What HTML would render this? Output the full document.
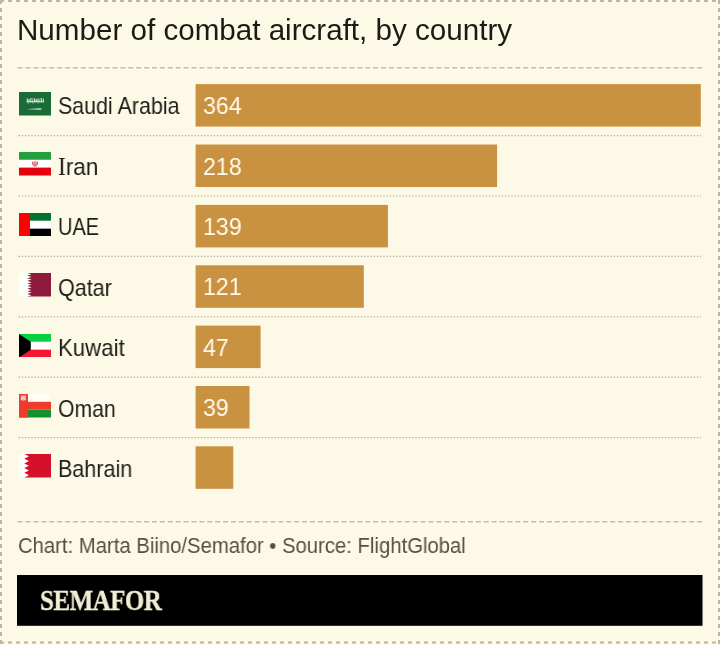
<!DOCTYPE html>
<html><head><meta charset="utf-8">
<style>
html,body{margin:0;padding:0}
.abs,.lab,.val,#logotxt{will-change:transform}
body{width:720px;height:645px;background:#fcf9e6;position:relative;overflow:hidden;font-family:"Liberation Sans",sans-serif}
.abs{position:absolute;white-space:nowrap}
#title{left:17.4px;top:11.6px;font-size:29.6px;line-height:36px;color:#1c1a14}
.lab{position:absolute;left:58px;margin-top:1.3px;font-size:23.8px;line-height:28px;color:#1f1d17;transform-origin:0 0;transform:scaleX(0.906)}
.val{position:absolute;left:202.8px;margin-top:1.3px;font-size:24px;line-height:28px;color:#fffbea;transform-origin:0 0;transform:scaleX(0.965)}
.flag{position:absolute;left:19px;width:32px;height:23.5px}
#foot{left:17.5px;top:533px;font-size:21.6px;line-height:26px;color:#54523f;transform-origin:0 0;transform:scaleX(0.939)}
#logotxt{position:absolute;left:39.5px;top:583.5px;font-family:"Liberation Serif",serif;font-weight:bold;font-size:28.5px;line-height:33px;color:#f1edd3;-webkit-text-stroke:0.35px #f1edd3;letter-spacing:-0.6px;transform-origin:0 0;transform:scaleX(0.877)}
svg.lines{position:absolute;left:0;top:0}
</style></head>
<body>
<svg class="lines" width="720" height="645">
  <g stroke="#b9b7ab" stroke-width="2" stroke-dasharray="4 4" fill="none">
    <line x1="0" y1="1" x2="720" y2="1"/>
    <line x1="0" y1="642.5" x2="720" y2="642.5"/>
    <line x1="1" y1="0" x2="1" y2="645"/>
    <line x1="719" y1="0" x2="719" y2="645"/>
  </g>
  <g stroke="#c0beaf" stroke-width="1.4" stroke-dasharray="4.9 3.0" fill="none">
    <line x1="17.7" y1="67.7" x2="703" y2="67.7"/>
    <line x1="17.7" y1="521.8" x2="703" y2="521.8"/>
  </g>
  <g stroke="#bbb9ab" stroke-width="1.2" stroke-dasharray="1.6 1.6" fill="none">
    <line x1="18.4" y1="135.60" x2="701" y2="135.60"/>
    <line x1="18.4" y1="196.00" x2="701" y2="196.00"/>
    <line x1="18.4" y1="256.40" x2="701" y2="256.40"/>
    <line x1="18.4" y1="316.80" x2="701" y2="316.80"/>
    <line x1="18.4" y1="377.20" x2="701" y2="377.20"/>
    <line x1="18.4" y1="437.60" x2="701" y2="437.60"/>
  </g>
</svg>

<div id="title" class="abs">Number of combat aircraft, by country</div>

<!-- rows -->
<svg class="lines" width="720" height="645"><g fill="#c89240"><rect x="195.6" y="84.1" width="505.2" height="42.5"/><rect x="195.6" y="144.5" width="301.5" height="42.5"/><rect x="195.6" y="204.9" width="192.3" height="42.5"/><rect x="195.6" y="265.3" width="168.2" height="42.5"/><rect x="195.6" y="325.6" width="65.0" height="42.5"/><rect x="195.6" y="386.0" width="53.9" height="42.5"/><rect x="195.6" y="446.3" width="37.7" height="42.5"/></g><rect x="17" y="575" width="685.5" height="50.8" fill="#000"/></svg>
<div class="lab" style="top:91.00px;transform:scaleX(0.9)">Saudi Arabia</div>
<div class="lab" style="top:151.45px;transform:scaleX(0.95)"><span style="font-family:'Liberation Serif';font-size:24.5px">I</span>ran</div>
<div class="lab" style="top:211.90px;transform:scaleX(0.84)">UAE</div>
<div class="lab" style="top:272.35px">Qatar</div>
<div class="lab" style="top:332.80px;transform:scaleX(0.935)">Kuwait</div>
<div class="lab" style="top:393.25px;transform:scaleX(0.892)">Oman</div>
<div class="lab" style="top:453.70px">Bahrain</div>

<div class="val" style="top:91px">364</div>
<div class="val" style="top:151.4px">218</div>
<div class="val" style="top:211.7px">139</div>
<div class="val" style="top:272.1px">121</div>
<div class="val" style="top:332.4px">47</div>
<div class="val" style="top:392.8px">39</div>

<!-- flags -->
<svg class="flag" style="top:92.2px" viewBox="0 0 32 24" preserveAspectRatio="none"><rect width="32" height="24" fill="#1b6b36"/><g fill="#fff"><rect x="7.6" y="9.4" width="17.2" height="1.1" opacity="0.75"/><rect x="7.8" y="6.4" width="0.95" height="4.10" opacity="0.8"/><rect x="9.6" y="7.4" width="0.95" height="3.10" opacity="0.8"/><rect x="11.4" y="6.2" width="0.95" height="4.30" opacity="0.8"/><rect x="13.3" y="7.8" width="0.95" height="2.70" opacity="0.8"/><rect x="15.0" y="6.3" width="0.95" height="4.20" opacity="0.8"/><rect x="16.8" y="7.2" width="0.95" height="3.30" opacity="0.8"/><rect x="18.6" y="6.2" width="0.95" height="4.30" opacity="0.8"/><rect x="20.4" y="7.6" width="0.95" height="2.90" opacity="0.8"/><rect x="22.2" y="6.3" width="0.95" height="4.20" opacity="0.8"/><rect x="24.0" y="6.8" width="0.95" height="3.70" opacity="0.8"/><rect x="8.3" y="7.6" width="2.4" height="1.1" opacity="0.5"/><rect x="12.2" y="6.4" width="2.2" height="1" opacity="0.5"/><rect x="16" y="7.8" width="2.6" height="1" opacity="0.5"/><rect x="20.6" y="6.6" width="2.6" height="1" opacity="0.5"/><circle cx="9.2" cy="11.2" r="0.55" opacity="0.7"/><circle cx="14" cy="11.3" r="0.55" opacity="0.6"/><circle cx="19" cy="11.2" r="0.55" opacity="0.6"/><path d="M8.8 17.3 L21 16.7 L22.6 16.9 L22.6 17.9 L21 18.0 L8.8 17.6Z" opacity="0.8"/></g></svg>
<svg class="flag" style="top:152.1px" viewBox="0 0 32 24" preserveAspectRatio="none"><rect width="32" height="8" fill="#239f40"/><rect y="8" width="32" height="8" fill="#fff"/><rect y="16" width="32" height="8" fill="#e4000f"/><g fill="none" stroke="#da0000" stroke-width="0.7" opacity="0.55" stroke-dasharray="1 1"><line x1="1" y1="16.4" x2="31" y2="16.4"/></g><g fill="none" stroke="#239f40" stroke-width="0.7" opacity="0.5" stroke-dasharray="1 1"><line x1="1" y1="7.6" x2="31" y2="7.6"/></g><g fill="none" stroke="#dc1020" stroke-width="0.9" opacity="0.95"><path d="M13.6 9.8 Q12.4 12.6 15.2 14.6"/><path d="M18.4 9.8 Q19.6 12.6 16.8 14.6"/><path d="M16 9 V14.8"/><path d="M14.8 10.6 Q14.4 12.8 16 13.6 Q17.6 12.8 17.2 10.6"/></g><ellipse cx="16" cy="12" rx="3" ry="2.8" fill="#f4b0a8" opacity="0.35"/></svg>
<svg class="flag" style="top:212.9px" viewBox="0 0 32 24" preserveAspectRatio="none"><rect width="32" height="8" fill="#00732f"/><rect y="8" width="32" height="8" fill="#fff"/><rect y="16" width="32" height="8" fill="#000"/><rect width="11" height="24" fill="#ff0000"/></svg>
<svg class="flag" style="top:273.25px" viewBox="0 0 32 24" preserveAspectRatio="none"><rect width="32" height="24" fill="#fefefb"/><polygon points="32,0 8.30,0.00 12.60,1.33 8.30,2.67 12.60,4.00 8.30,5.33 12.60,6.67 8.30,8.00 12.60,9.33 8.30,10.67 12.60,12.00 8.30,13.33 12.60,14.67 8.30,16.00 12.60,17.33 8.30,18.67 12.60,20.00 8.30,21.33 12.60,22.67 8.30,24.00 32,24" fill="#8e1b3c"/></svg>
<svg class="flag" style="top:333.5px" viewBox="0 0 32 24" preserveAspectRatio="none"><rect width="32" height="8" fill="#08d040"/><rect y="8" width="32" height="8" fill="#fff"/><rect y="16" width="32" height="8" fill="#f31830"/><path d="M0 0 L11.8 8 L11.8 16 L0 24Z" fill="#000"/></svg>
<svg class="flag" style="top:394px" viewBox="0 0 32 24" preserveAspectRatio="none"><rect width="32" height="8" fill="#fffdf4"/><rect y="8" width="32" height="8" fill="#ef3a2c"/><rect y="16" width="32" height="8" fill="#12912c"/><rect width="9" height="24" fill="#ef3a2c"/><ellipse cx="4.3" cy="4" rx="2.8" ry="2.8" fill="#fbd0c4" opacity="0.75"/><g stroke="#fff" stroke-width="0.9" opacity="0.8"><line x1="1.8" y1="1.6" x2="6.8" y2="6.2"/><line x1="6.8" y1="1.6" x2="1.8" y2="6.2"/></g></svg>
<svg class="flag" style="top:454.25px" viewBox="0 0 32 24" preserveAspectRatio="none"><rect width="32" height="24" fill="#fefefb"/><polygon points="32,0 5.30,0.00 10.00,2.40 5.30,4.80 10.00,7.20 5.30,9.60 10.00,12.00 5.30,14.40 10.00,16.80 5.30,19.20 10.00,21.60 5.30,24.00 32,24" fill="#d6102a"/></svg>

<div id="foot" class="abs">Chart: Marta Biino/Semafor • Source: FlightGlobal</div>
<div id="logotxt" class="abs">SEMAFOR</div>
</body></html>
